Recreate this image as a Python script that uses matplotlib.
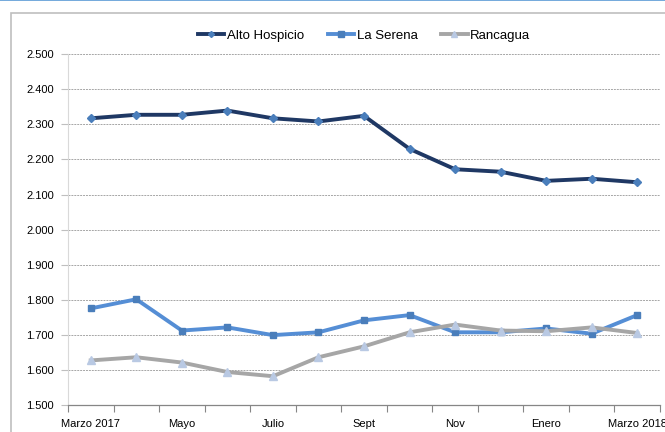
#!/usr/bin/env python3
"""
plot.py

Monthly series for Alto Hospicio, La Serena and Rancagua, Marzo 2017 - Marzo 2018.
"""

import matplotlib
matplotlib.use('Agg')
import matplotlib.pyplot as plt
from matplotlib.ticker import FuncFormatter
import numpy as np

months = ['Marzo 2017', 'Abril', 'Mayo', 'Junio', 'Julio', 'Agosto', 'Sept',
          'Oct', 'Nov', 'Dic', 'Enero', 'Feb', 'Marzo 2018']
alto_hospicio = [2317, 2327, 2327, 2339, 2317, 2308, 2324, 2230, 2172, 2165, 2139, 2145, 2135]
la_serena = [1776, 1802, 1713, 1722, 1700, 1708, 1742, 1757, 1708, 1708, 1719, 1704, 1757]
rancagua = [1628, 1637, 1622, 1595, 1583, 1637, 1668, 1708, 1730, 1713, 1711, 1722, 1706]
y_ticks = list(range(1500, 2501, 100))


def thousands(v, pos):
    return '{:,.0f}'.format(v).replace(',', '.')


def main():
    plt.rcParams['font.family'] = ['Liberation Sans', 'DejaVu Sans']

    fig = plt.figure(figsize=(6.65, 4.32), dpi=100)
    # thin blue rule along the top and the grey chart-area frame
    fig.add_artist(plt.Line2D([0, 1], [0.999, 0.999], color='#5B9BD5', lw=1.2))
    fig.add_artist(plt.Rectangle((11 / 665, -0.01), 1.0, (432 - 13) / 432 + 0.01,
                                 fill=False, ec='#BFBFBF', lw=1.2))

    ax = fig.add_axes([68 / 665, (432 - 405.4) / 432, (660 - 68) / 665, (405.4 - 54) / 432])
    x = np.arange(len(months))

    ax.plot(x, alto_hospicio, color='#1F3864', lw=2.8, marker='D', ms=3.8,
            mfc='#4A7EBB', mec='#4A7EBB', label='Alto Hospicio', zorder=3)
    ax.plot(x, la_serena, color='#558ED5', lw=2.8, marker='s', ms=5,
            mfc='#4A7EBB', mec='#4A7EBB', label='La Serena', zorder=3)
    ax.plot(x, rancagua, color='#A6A6A6', lw=2.8, marker='^', ms=5.2,
            mfc='#B9C9E3', mec='#B9C9E3', label='Rancagua', zorder=3)

    ax.set_xlim(-0.5, len(months) - 0.5)
    ax.set_ylim(1500, 2500)
    ax.set_yticks(y_ticks)
    ax.yaxis.set_major_formatter(FuncFormatter(thousands))

    # tick marks on category boundaries, labels on every other month
    ax.set_xticks(np.arange(-0.5, len(months)))
    ax.set_xticklabels([])
    ax.set_xticks(x[::2], minor=True)
    ax.set_xticklabels([months[i] for i in x[::2]], minor=True)
    ax.tick_params(axis='x', which='major', length=5, width=0.8, color='#868686', direction='out')
    ax.tick_params(axis='x', which='minor', length=0, pad=10, labelsize=8)
    ax.tick_params(axis='y', length=5, width=0.8, color='#BFBFBF', pad=5, labelsize=8)

    ax.yaxis.grid(True, color='#A6A6A6', lw=0.7, ls=(0, (2, 1)))
    ax.set_axisbelow(True)
    for s in ['top', 'right']:
        ax.spines[s].set_visible(False)
    ax.spines['left'].set_color('#D9D9D9')
    ax.spines['bottom'].set_color('#868686')
    ax.spines['bottom'].set_linewidth(0.9)

    ax.legend(loc='lower center', bbox_to_anchor=(0.5, 1.02), ncol=3, frameon=False,
              fontsize=9.5, handlelength=2.0, handletextpad=0.2, columnspacing=1.8,
              borderaxespad=0, markerscale=0.8)

    fig.savefig('out.png', dpi=100)
    print("Saved out.png")


if __name__ == "__main__":
    main()
